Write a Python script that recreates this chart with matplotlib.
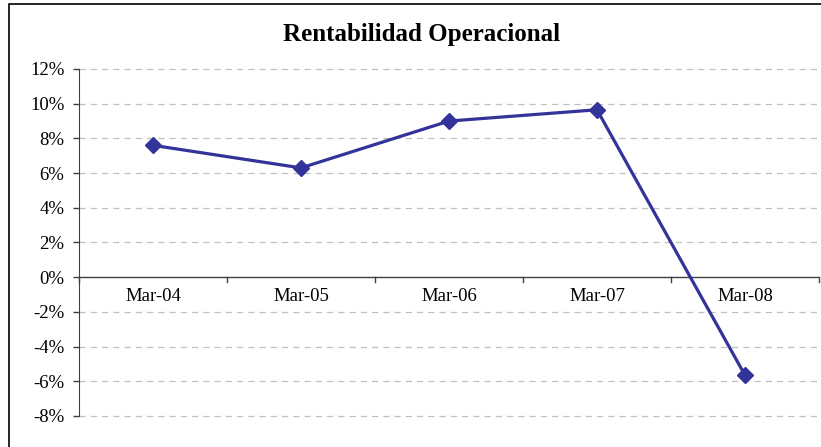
import matplotlib.pyplot as plt
import numpy as np
from matplotlib.patches import Rectangle
from matplotlib.ticker import FuncFormatter

plt.rc('font', family='Liberation Serif')

# Data
periods = ["Mar-04", "Mar-05", "Mar-06", "Mar-07", "Mar-08"]
rentabilidad = [7.6, 6.3, 9.0, 9.65, -5.65]
y_ticks = [-8, -6, -4, -2, 0, 2, 4, 6, 8, 10, 12]

fig = plt.figure(figsize=(8.21, 4.47), dpi=100)
ax = fig.add_axes([79 / 821, 1 - 416 / 447, 740 / 821, 347 / 447])

x = np.arange(len(periods))
ax.plot(x, rentabilidad, color='#333399', linewidth=2.3, marker='D',
        markersize=8, zorder=3)

ax.set_xlim(-0.5, len(periods) - 0.5)
ax.set_ylim(-8, 12)
ax.set_yticks(y_ticks)
ax.yaxis.set_major_formatter(FuncFormatter(lambda v, p: "{:d}%".format(int(v))))
ax.tick_params(axis='y', labelsize=13.5, length=4, width=1, color='#404040', pad=6.5)

# Dashed gridlines (zero line is drawn separately as the category axis)
for v in y_ticks:
    if v != 0:
        ax.axhline(v, color='#c0c0c0', linestyle=(0, (5, 4)), linewidth=0.9,
                   zorder=1, clip_on=False)
ax.axhline(0, color='#404040', linewidth=1.0, zorder=2)

# Category axis sits on the zero line: boundary ticks and labels below it
ax.set_xticks([])
for b in np.arange(-0.5, len(periods), 1.0):
    ax.plot([b, b], [0, -0.3], color='#404040', linewidth=1.0, zorder=2, clip_on=False)
for xi, lab in zip(x, periods):
    ax.text(xi, -0.65, lab, ha='center', va='top', fontsize=13.5)

for side in ['top', 'right', 'bottom']:
    ax.spines[side].set_visible(False)
ax.spines['left'].set_color('#404040')

fig.text(0.514, 1 - 35 / 447, "Rentabilidad Operacional", ha='center',
         va='center', fontsize=18, fontweight='bold')

# Outer chart frame (cropped on the right and bottom)
fig.patches.append(Rectangle((9 / 821, -0.1), 1.2, 1.1 - 4 / 447,
                             transform=fig.transFigure, fill=False,
                             edgecolor='black', linewidth=1.2))

fig.savefig("out.png", dpi=100)
